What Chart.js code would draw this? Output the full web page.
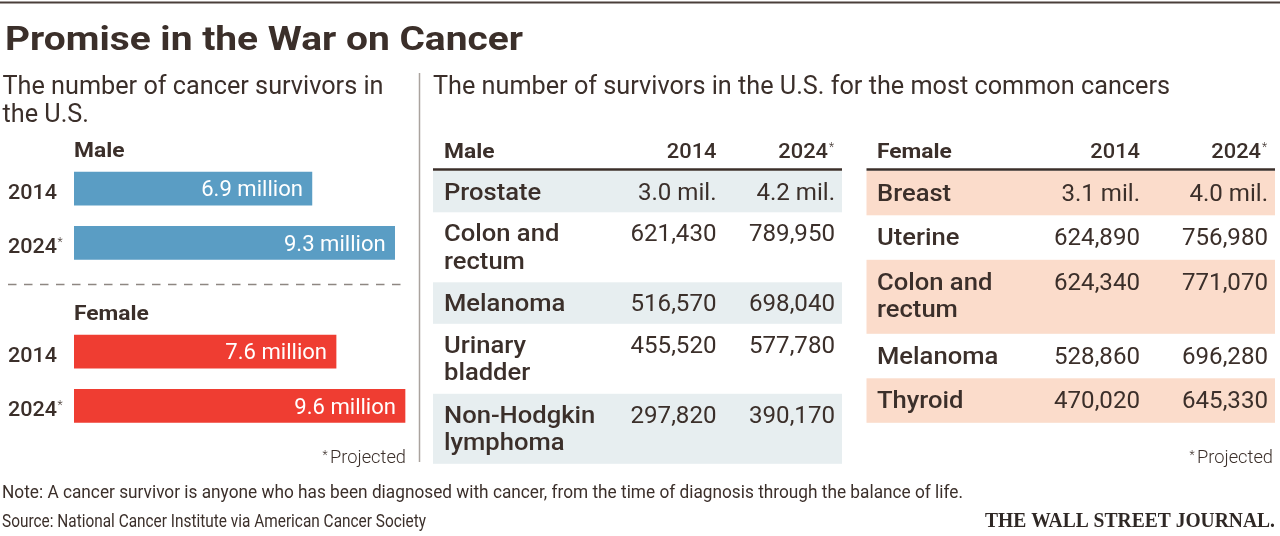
<!DOCTYPE html>
<html><head><meta charset="utf-8">
<script src="https://cdn.jsdelivr.net/npm/chart.js@4"></script>
<style>html,body{margin:0;padding:0;background:#fff;}canvas{display:block;}</style>
</head><body>
<canvas id="c" width="1280" height="536"></canvas>
<script>
const titleText = 'Promise in the War on Cancer';
const leftSubtitle = ['The number of cancer survivors in', 'the U.S.'];
const rightSubtitle = 'The number of survivors in the U.S. for the most common cancers';
const barGroups = ['Male', 'Female'];
const barYears = ['2014', '2024'];
const maleTotals = [6.9, 9.3];      // millions
const femaleTotals = [7.6, 9.6];    // millions
const tableYears = ['2014', '2024'];
const maleCancers = ['Prostate', 'Colon and|rectum', 'Melanoma', 'Urinary|bladder', 'Non-Hodgkin|lymphoma'];
const male2014 = [3000000, 621430, 516570, 455520, 297820];
const male2024 = [4200000, 789950, 698040, 577780, 390170];
const femaleCancers = ['Breast', 'Uterine', 'Colon and|rectum', 'Melanoma', 'Thyroid'];
const female2014 = [3100000, 624890, 624340, 528860, 470020];
const female2024 = [4000000, 756980, 771070, 696280, 645330];
const projectedLabel = 'Projected';
const noteText = 'Note: A cancer survivor is anyone who has been diagnosed with cancer, from the time of diagnosis through the balance of life.';
const sourceText = 'Source: National Cancer Institute via American Cancer Society';
const logoText = 'THE WALL STREET JOURNAL.';

const INK = '#3b2f2a';
const BLUE = '#5a9dc4';
const RED = '#ef3d32';
const MALE_BG = '#e7eef0';
const FEMALE_BG = '#fbdccb';
const F = 'Roboto, "Open Sans", sans-serif';

function fmt(v) {
  if (v >= 1000000) return (v / 1000000).toFixed(1) + ' mil.';
  return v.toLocaleString('en-US');
}
function fit(ctx, s, font, target) {
  ctx.save(); ctx.font = font; const w = ctx.measureText(s).width; ctx.restore();
  return target / w;
}
function txt(ctx, s, x, y, font, color, align, sx) {
  sx = sx || 1;
  ctx.save();
  ctx.font = font; ctx.fillStyle = color; ctx.textBaseline = 'alphabetic'; ctx.textAlign = 'left';
  const w = ctx.measureText(s).width * sx;
  const x0 = align === 'right' ? x - w : (align === 'center' ? x - w / 2 : x);
  ctx.translate(x0, y); ctx.scale(sx, 1);
  ctx.fillText(s, 0, 0);
  ctx.restore();
  return w;
}

const S = {};
function styles(ctx) {
  S.title = ['700 33px ' + F]; S.title.push(fit(ctx, titleText, S.title[0], 518));
  S.sub = ['400 26px ' + F]; S.sub.push(fit(ctx, leftSubtitle[0], S.sub[0], 381));
  S.group = ['700 20.5px ' + F]; S.group.push(fit(ctx, 'Male', S.group[0], 50.5));
  S.year = ['500 21px ' + F]; S.year.push(fit(ctx, '2014', S.year[0], 49));
  S.val = ['400 22.5px ' + F]; S.val.push(fit(ctx, '6.9 million', S.val[0], 101.7));
  S.head = ['500 20.5px ' + F]; S.head.push(fit(ctx, '2014', S.head[0], 49.7));
  S.name = ['500 23px ' + F]; S.name.push(fit(ctx, 'ProstateMelanoma', S.name[0], 218.5));
  S.num = ['400 23px ' + F]; S.num.push(fit(ctx, '621,430', S.num[0], 86));
  S.proj = ['300 19px ' + F]; S.proj.push(fit(ctx, projectedLabel, S.proj[0], 76));
  S.note = ['400 18.5px ' + F]; S.note.push(fit(ctx, noteText, S.note[0], 961));
  S.logo = ['700 21px "Liberation Serif", "DejaVu Serif", serif']; S.logo.push(fit(ctx, logoText, S.logo[0], 290));
}
function T(ctx, s, x, y, st, color, align) { return txt(ctx, s, x, y, st[0], color || INK, align, st[1]); }
function star(ctx, x, y) { txt(ctx, '*', x, y, '300 12px ' + F, INK, 'left', 1); }

function drawTable(ctx, c) {
  T(ctx, c.group, c.nameX, 157.5, S.group);
  T(ctx, tableYears[0], c.col1R, 157.5, S.head, INK, 'right');
  T(ctx, tableYears[1], c.col2R - 7, 157.5, S.head, INK, 'right');
  star(ctx, c.col2R - 6, 151);
  let y = 170.8;
  c.names.forEach((nm, i) => {
    const lines = nm.split('|');
    const h = c.pad + lines.length * c.lh;
    if (i % 2 === 0) { ctx.fillStyle = c.bg; ctx.fillRect(c.left, y, c.right - c.left, h); }
    const base = y + c.pad / 2 + 22.5;
    lines.forEach((l, k) => T(ctx, l, c.nameX, base + k * 27.5, S.name));
    T(ctx, fmt(c.v1[i]), c.col1R, base, S.num, INK, 'right');
    T(ctx, fmt(c.v2[i]), c.col2R, base, S.num, INK, 'right');
    y += h;
  });
  ctx.save(); ctx.strokeStyle = INK; ctx.lineWidth = 2.5;
  ctx.beginPath(); ctx.moveTo(c.left, 169.5); ctx.lineTo(c.right, 169.5); ctx.stroke(); ctx.restore();
}

const overlay = {
  id: 'overlay',
  afterDraw(chart) {
    const ctx = chart.ctx;
    styles(ctx);
    ctx.save(); ctx.strokeStyle = '#4a3f3a'; ctx.lineWidth = 2;
    ctx.beginPath(); ctx.moveTo(0, 2.5); ctx.lineTo(1280, 2.5); ctx.stroke(); ctx.restore();
    T(ctx, titleText, 5, 50, S.title);
    T(ctx, leftSubtitle[0], 2.5, 94.3, S.sub);
    T(ctx, leftSubtitle[1], 2.5, 122, S.sub);
    T(ctx, rightSubtitle, 433, 93.5, S.sub);
    ctx.save(); ctx.strokeStyle = '#aaa39e'; ctx.lineWidth = 1.5;
    ctx.beginPath(); ctx.moveTo(419.5, 73); ctx.lineTo(419.5, 462); ctx.stroke(); ctx.restore();

    const meta = chart.getDatasetMeta(0);
    const ys = chart.scales.y;
    const left = chart.chartArea.left;
    const labels = chart.data.labels;
    meta.data.forEach((el, i) => {
      const v = chart.data.datasets[0].data[i];
      if (v == null) return;
      const yc = ys.getPixelForValue(i);
      const w = T(ctx, labels[i], 8, yc + 10, S.year);
      if (labels[i] === barYears[1]) star(ctx, 8 + w + 0.5, yc + 3);
      T(ctx, v.toFixed(1) + ' million', el.x - 9, el.y + 7.8, S.val, '#ffffff', 'right');
    });
    T(ctx, barGroups[0], left, ys.getPixelForValue(0) - 31.2, S.group);
    T(ctx, barGroups[1], left, ys.getPixelForValue(3) - 31.5, S.group);
    const dy = Math.round(ys.getPixelForValue(2) - 13) + 0.5;
    ctx.save(); ctx.strokeStyle = '#8e8782'; ctx.lineWidth = 1.5; ctx.setLineDash([8.5, 7.5]);
    ctx.beginPath(); ctx.moveTo(8, dy); ctx.lineTo(407, dy); ctx.stroke(); ctx.restore();
    const pw = T(ctx, projectedLabel, 406, 463, S.proj, INK, 'right');
    star(ctx, 406 - pw - 7.5, 459);
    const pw2 = T(ctx, projectedLabel, 1273, 463, S.proj, INK, 'right');
    star(ctx, 1273 - pw2 - 7.5, 459);

    drawTable(ctx, { group: barGroups[0], names: maleCancers, v1: male2014, v2: male2024,
      left: 433, right: 842, nameX: 444, col1R: 716.5, col2R: 835, bg: MALE_BG, pad: 13, lh: 28.5 });
    drawTable(ctx, { group: barGroups[1], names: femaleCancers, v1: female2014, v2: female2024,
      left: 866.5, right: 1275, nameX: 877, col1R: 1140, col2R: 1268, bg: FEMALE_BG, pad: 15, lh: 29.5 });

    T(ctx, noteText, 2, 498, S.note);
    const ss = fit(ctx, sourceText, S.note[0], 424);
    txt(ctx, sourceText, 2, 527, S.note[0], INK, 'left', ss);
    T(ctx, logoText, 1275, 527, S.logo, '#2f2825', 'right');
  }
};

const barLabels = [barYears[0], barYears[1], '', barYears[0], barYears[1]];
const barValues = [maleTotals[0], maleTotals[1], null, femaleTotals[0], femaleTotals[1]];
const barColors = [BLUE, BLUE, 'rgba(0,0,0,0)', RED, RED];

new Chart(document.getElementById('c').getContext('2d'), {
  type: 'bar',
  data: { labels: barLabels, datasets: [{ data: barValues, backgroundColor: barColors, borderWidth: 0, barThickness: 33 }] },
  options: {
    indexAxis: 'y', responsive: false, animation: false, devicePixelRatio: 1,
    layout: { padding: { left: 74, top: 161.5, right: 861.2, bottom: 103 } },
    scales: { x: { display: false, min: 0, max: 10 }, y: { display: false } },
    plugins: { legend: { display: false }, tooltip: { enabled: false } }
  },
  plugins: [overlay]
});
</script>
</body></html>
